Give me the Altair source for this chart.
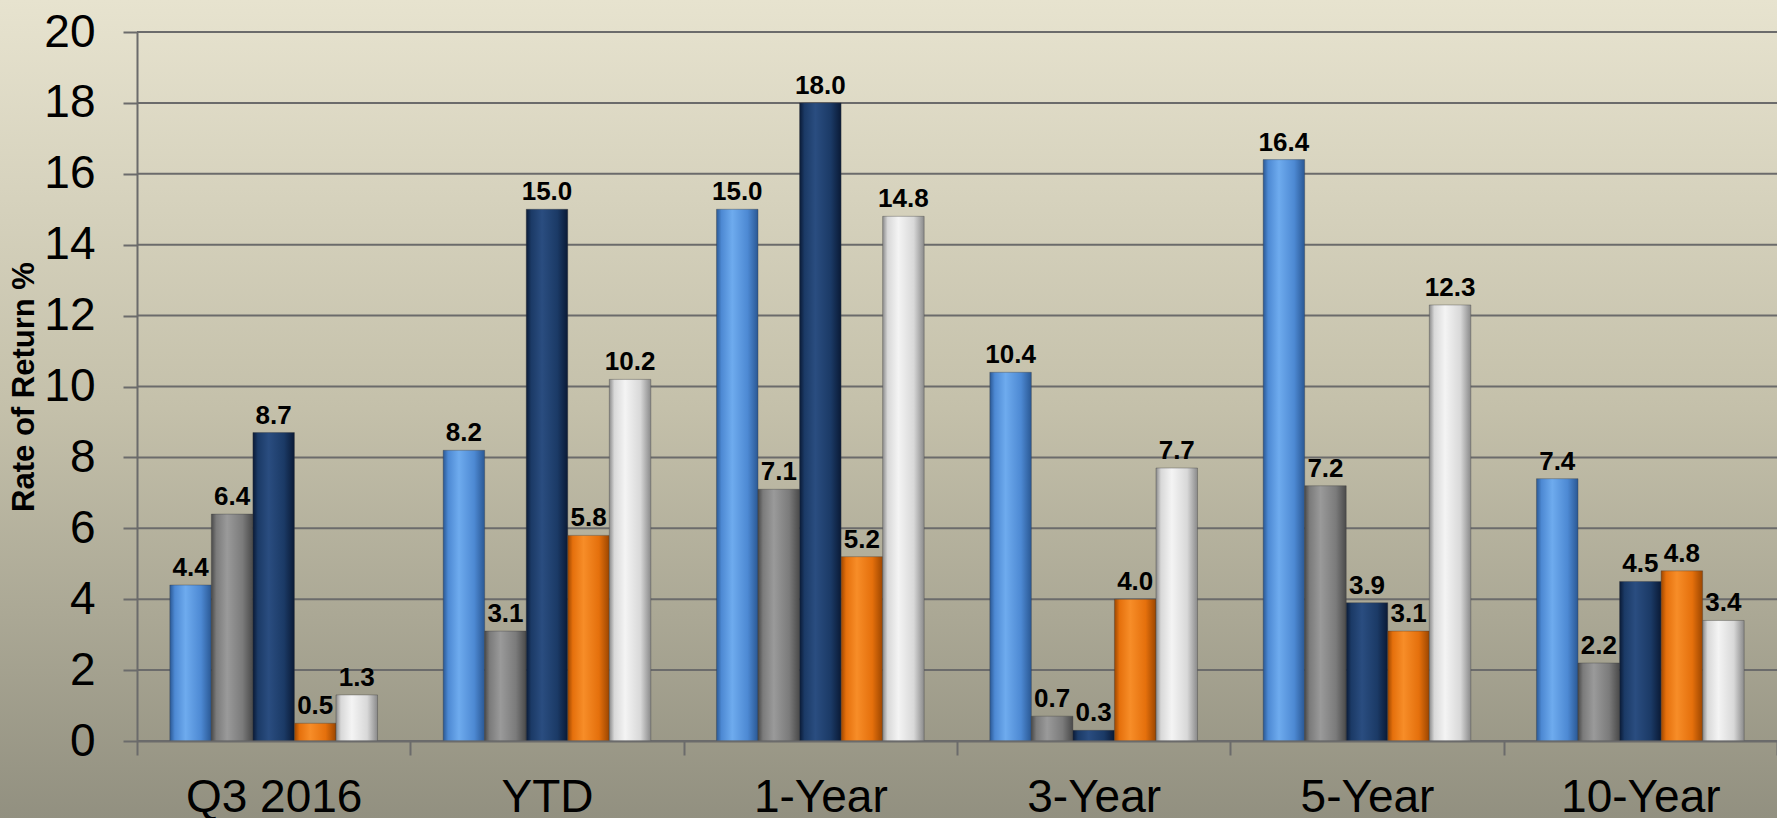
import altair as alt
import pandas as pd

# ---- data ----
categories = ["Q3 2016", "YTD", "1-Year", "3-Year", "5-Year", "10-Year"]
series_names = ["Series 1", "Series 2", "Series 3", "Series 4", "Series 5"]
series1 = [4.4, 8.2, 15.0, 10.4, 16.4, 7.4]
series2 = [6.4, 3.1, 7.1, 0.7, 7.2, 2.2]
series3 = [8.7, 15.0, 18.0, 0.3, 3.9, 4.5]
series4 = [0.5, 5.8, 5.2, 4.0, 3.1, 4.8]
series5 = [1.3, 10.2, 14.8, 7.7, 12.3, 3.4]
y_ticks = [0, 2, 4, 6, 8, 10, 12, 14, 16, 18, 20]

all_series = [series1, series2, series3, series4, series5]
rows = []
for name, vals in zip(series_names, all_series):
    for cat, v in zip(categories, vals):
        rows.append({"category": cat, "series": name, "value": v})
df = pd.DataFrame(rows)
grid_df = pd.DataFrame({"value": y_ticks})
bg_df = pd.DataFrame({"bg": [0]})

# ---- styles ----
W, H = 1640, 709
PAD = {"left": 137, "top": 32, "right": 0, "bottom": 77}
FONT = "Liberation Sans"
LINE = "#6b6b6b"
# (edge dark, mid, highlight) for each series
bar_shades = [
    ("#2a5894", "#4d89d3", "#6eabee"),
    ("#4a4a4a", "#7b7b7b", "#9a9a9a"),
    ("#0a1a36", "#1b3a66", "#2a4d80"),
    ("#9c4600", "#e5700c", "#f78d28"),
    ("#8a8a8a", "#d8d8d8", "#f4f4f4"),
]


def bar_gradient(dark, mid, light):
    return alt.Gradient(
        gradient="linear",
        x1=0, y1=0, x2=1, y2=0,
        stops=[
            alt.GradientStop(color=dark, offset=0),
            alt.GradientStop(color=mid, offset=0.12),
            alt.GradientStop(color=light, offset=0.38),
            alt.GradientStop(color=mid, offset=0.75),
            alt.GradientStop(color=dark, offset=1),
        ],
    )


x_enc = alt.X(
    "category:N",
    sort=categories,
    scale=alt.Scale(domain=categories, paddingInner=0, paddingOuter=0),
    axis=alt.Axis(
        title=None, labelAngle=0, labelFont=FONT, labelFontSize=46,
        labelColor="black", tickBand="extent", tickSize=14, tickWidth=2,
        tickColor=LINE, domainColor=LINE, domainWidth=2, labelPadding=20,
        grid=False, zindex=1,
    ),
)
y_enc = alt.Y(
    "value:Q",
    scale=alt.Scale(domain=[0, 20], nice=False),
    axis=alt.Axis(
        values=y_ticks, title="Rate of Return %", titleFont=FONT,
        titleFontSize=31, titleFontWeight="bold", titleColor="black",
        titlePadding=3, labelFont=FONT, labelFontSize=46, labelColor="black",
        tickSize=14, tickWidth=2, tickColor=LINE, domainColor=LINE,
        domainWidth=2, labelPadding=28, grid=False, zindex=1,
    ),
)
xoff_enc = alt.XOffset(
    "series:N",
    sort=series_names,
    scale=alt.Scale(domain=series_names, paddingInner=0, paddingOuter=0.79),
)

background = alt.Chart(bg_df).mark_rect(
    fill=alt.Gradient(
        gradient="linear", x1=0, y1=0, x2=0, y2=1,
        stops=[
            alt.GradientStop(color="#e7e3cf", offset=0),
            alt.GradientStop(color="#c4c0aa", offset=0.5),
            alt.GradientStop(color="#929080", offset=1),
        ],
    )
).encode(
    x=alt.value(-PAD["left"]), x2=alt.value(W + PAD["right"]),
    y=alt.value(-PAD["top"]), y2=alt.value(H + PAD["bottom"]),
)

grid = alt.Chart(grid_df).mark_rule(color=LINE, strokeWidth=2).encode(
    y=y_enc, x=alt.value(0), x2=alt.value(W)
)

bar_layers = []
for name, shades in zip(series_names, bar_shades):
    bar_layers.append(
        alt.Chart(df)
        .transform_filter(alt.datum.series == name)
        .mark_bar(fill=bar_gradient(*shades), stroke="#3a3a3a", strokeWidth=0.6, strokeOpacity=0.6)
        .encode(x=x_enc, xOffset=xoff_enc, y=y_enc)
    )

labels = alt.Chart(df).mark_text(
    font=FONT, fontSize=26, fontWeight="bold", color="black",
    baseline="alphabetic", dy=-9,
).encode(
    x=x_enc, xOffset=xoff_enc, y=y_enc,
    text=alt.Text("value:Q", format=".1f"),
)

chart = alt.layer(background, grid, *bar_layers, labels).properties(
    width=W, height=H,
    padding=PAD,
    autosize=alt.AutoSizeParams(type="none"),
    background="#c4c0aa",
).configure_view(stroke=None)

chart.save("out.html", embed_options={"renderer": "svg", "actions": False})
